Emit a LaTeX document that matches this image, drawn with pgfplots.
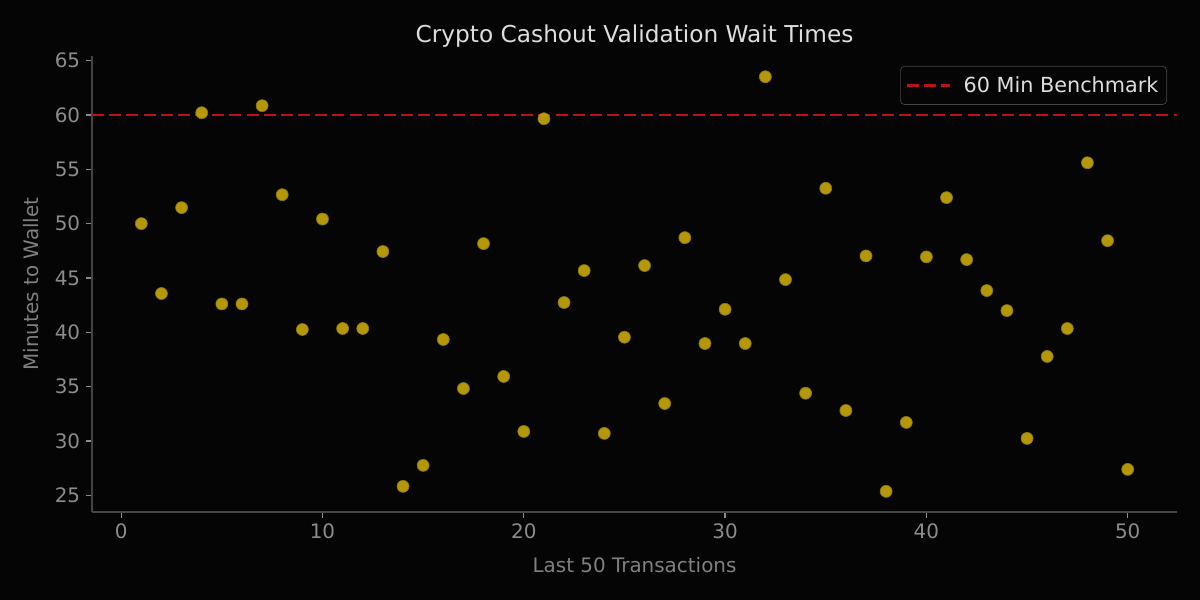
\documentclass[border=0pt]{standalone}
\usepackage{pgfplots}
\pgfplotsset{compat=1.18}
\usepackage{fontspec}
\setmainfont{DejaVu Sans}
\definecolor{bg}{HTML}{050505}
\definecolor{spine}{HTML}{444444}
\definecolor{tickc}{HTML}{8C8C8C}
\definecolor{labc}{HTML}{808080}
\definecolor{titc}{HTML}{DDDDDD}
\definecolor{gold}{HTML}{C8A80A}
\definecolor{benchred}{HTML}{B81418}
\pgfplotstableread{
x y
1 50.0
2 43.57
3 51.47
4 60.2
5 42.61
6 42.61
7 60.85
8 52.66
9 40.26
10 50.42
11 40.35
12 40.35
13 47.43
14 25.83
15 27.76
16 39.34
17 34.83
18 48.16
19 35.94
20 30.88
21 59.65
22 42.74
23 45.68
24 30.70
25 39.55
26 46.14
27 33.45
28 48.71
29 38.97
30 42.12
31 38.97
32 63.51
33 44.85
34 34.40
35 53.25
36 32.81
37 47.03
38 25.37
39 31.71
40 46.94
41 52.39
42 46.69
43 43.84
44 42.0
45 30.24
46 37.78
47 40.35
48 55.6
49 48.43
50 27.39
}\datatable
\begin{document}
\begin{tikzpicture}
\fill[bg] (0,0) rectangle (720bp,360bp);
\useasboundingbox (0,0) rectangle (720bp,360bp);
\begin{axis}[
  at={(55.2bp,52.8bp)}, anchor=south west,
  scale only axis, width=651bp, height=273.6bp,
  xmin=-1.45, xmax=52.45, ymin=23.47, ymax=65.42,
  axis x line*=bottom, axis y line*=left,
  axis line style={spine, line width=0.8pt},
  xtick={0,10,20,30,40,50}, ytick={25,30,...,65},
  tick align=outside, major tick length=3.6bp,
  tick style={tickc, line width=0.8pt},
  every tick label/.append style={font=\fontsize{12}{14}\selectfont, text=tickc},
  /pgf/number format/assume math mode=true,
  xlabel={Last 50 Transactions}, ylabel={Minutes to Wallet},
  label style={font=\fontsize{12}{14}\selectfont, text=labc},
  xlabel style={yshift=-4bp},
  ylabel style={yshift=3bp},
  title={Crypto Cashout Validation Wait Times},
  title style={font=\fontsize{14}{16}\selectfont, text=titc, yshift=-4.5bp},
  legend style={at={(1,1)}, anchor=north east, xshift=-6bp, yshift=-6bp,
    fill=bg, draw=spine, rounded corners=2.5bp, text=titc,
    font=\fontsize{12.5}{14}\selectfont, inner xsep=3bp, inner ysep=4bp},
  legend image code/.code={\path[draw=none] (-1bp,0bp) -- (32bp,0bp);\draw[#1] (0bp,0bp) -- (26bp,0bp);},
  legend cell align=left,
  clip=false,
]
\addplot[only marks, mark=*, mark size=3.6bp,
  mark options={fill=gold, draw=gold!70!black, line width=0.4pt, fill opacity=0.9},
  forget plot] table[x=x, y=y] {\datatable};
\addplot[benchred, line width=1.4bp, dash pattern=on 7.2bp off 3.1bp]
  coordinates {(-1.45,60) (52.45,60)};
\addlegendentry{60 Min Benchmark}
\end{axis}
\end{tikzpicture}
\end{document}
